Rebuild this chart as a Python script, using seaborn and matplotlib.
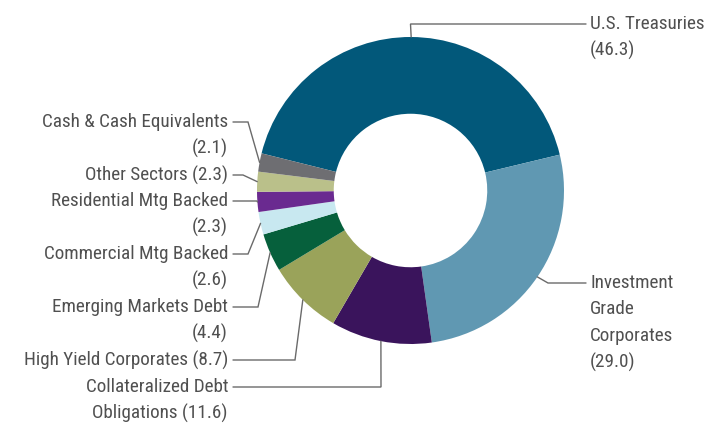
import matplotlib
matplotlib.use("Agg")
import matplotlib.pyplot as plt
import seaborn as sns
import numpy as np

# ---- data ----
sectors = ["U.S. Treasuries", "Investment Grade Corporates", "Collateralized Debt Obligations",
           "High Yield Corporates", "Emerging Markets Debt", "Commercial Mtg Backed",
           "Residential Mtg Backed", "Other Sectors", "Cash & Cash Equivalents"]
values = [46.3, 29.0, 11.6, 8.7, 4.4, 2.6, 2.3, 2.3, 2.1]
label_lines = [
    ["U.S. Treasuries", "(46.3)"],
    ["Investment", "Grade", "Corporates", "(29.0)"],
    ["Collateralized Debt", "Obligations (11.6)"],
    ["High Yield Corporates (8.7)"],
    ["Emerging Markets Debt", "(4.4)"],
    ["Commercial Mtg Backed", "(2.6)"],
    ["Residential Mtg Backed", "(2.3)"],
    ["Other Sectors (2.3)"],
    ["Cash & Cash Equivalents", "(2.1)"],
]
colors = ["#02587A", "#6098B2", "#3A145C", "#9AA35A", "#06603C",
          "#C8E8F0", "#6A2A90", "#BAC08A", "#6E6E72"]

# ---- layout (pixel coordinates, y measured from top) ----
W, H = 708, 424
cx, cy, R = 410.5, 190.5, 153.5
side = ["R", "R", "L", "L", "L", "L", "L", "L", "L"]
first_y = [24, 283, 387, 360, 307, 254, 201, 175, 122]
elbow_x = [410.5, 548, 381, 295, 258, 248, 257, 243, 248]
line_gap = 26.5

sns.set_theme(style="white")
plt.rcParams["font.family"] = ["Roboto Condensed", "DejaVu Sans"]

fig = plt.figure(figsize=(W / 100, H / 100), dpi=100)
ax = fig.add_axes([0, 0, 1, 1])
wedges, _ = ax.pie(values, colors=colors, startangle=166, counterclock=False,
                   center=(cx, H - cy), radius=R,
                   wedgeprops=dict(width=R * 0.5, linewidth=0))
ax.set_xlim(0, W)
ax.set_ylim(0, H)
ax.set_aspect("equal")
ax.axis("off")

txt_color = "#505050"
line_color = "#6a6a6a"
for i, w in enumerate(wedges):
    mid = np.deg2rad((w.theta1 + w.theta2) / 2)
    px = cx + R * np.cos(mid)
    py = (H - cy) + R * np.sin(mid)
    y0 = H - first_y[i]
    if side[i] == "L":
        tx, sx, ha = 228, 233, "right"
    else:
        tx, sx, ha = 590, 586, "left"
    ax.plot([sx, elbow_x[i], px], [y0, y0, py], color=line_color, lw=1.0,
            solid_joinstyle="miter")
    for k, line in enumerate(label_lines[i]):
        ax.text(tx, y0 - k * line_gap, line, ha=ha, va="center",
                fontsize=13.8, color=txt_color)

fig.savefig("out.png", dpi=100, facecolor="white")
